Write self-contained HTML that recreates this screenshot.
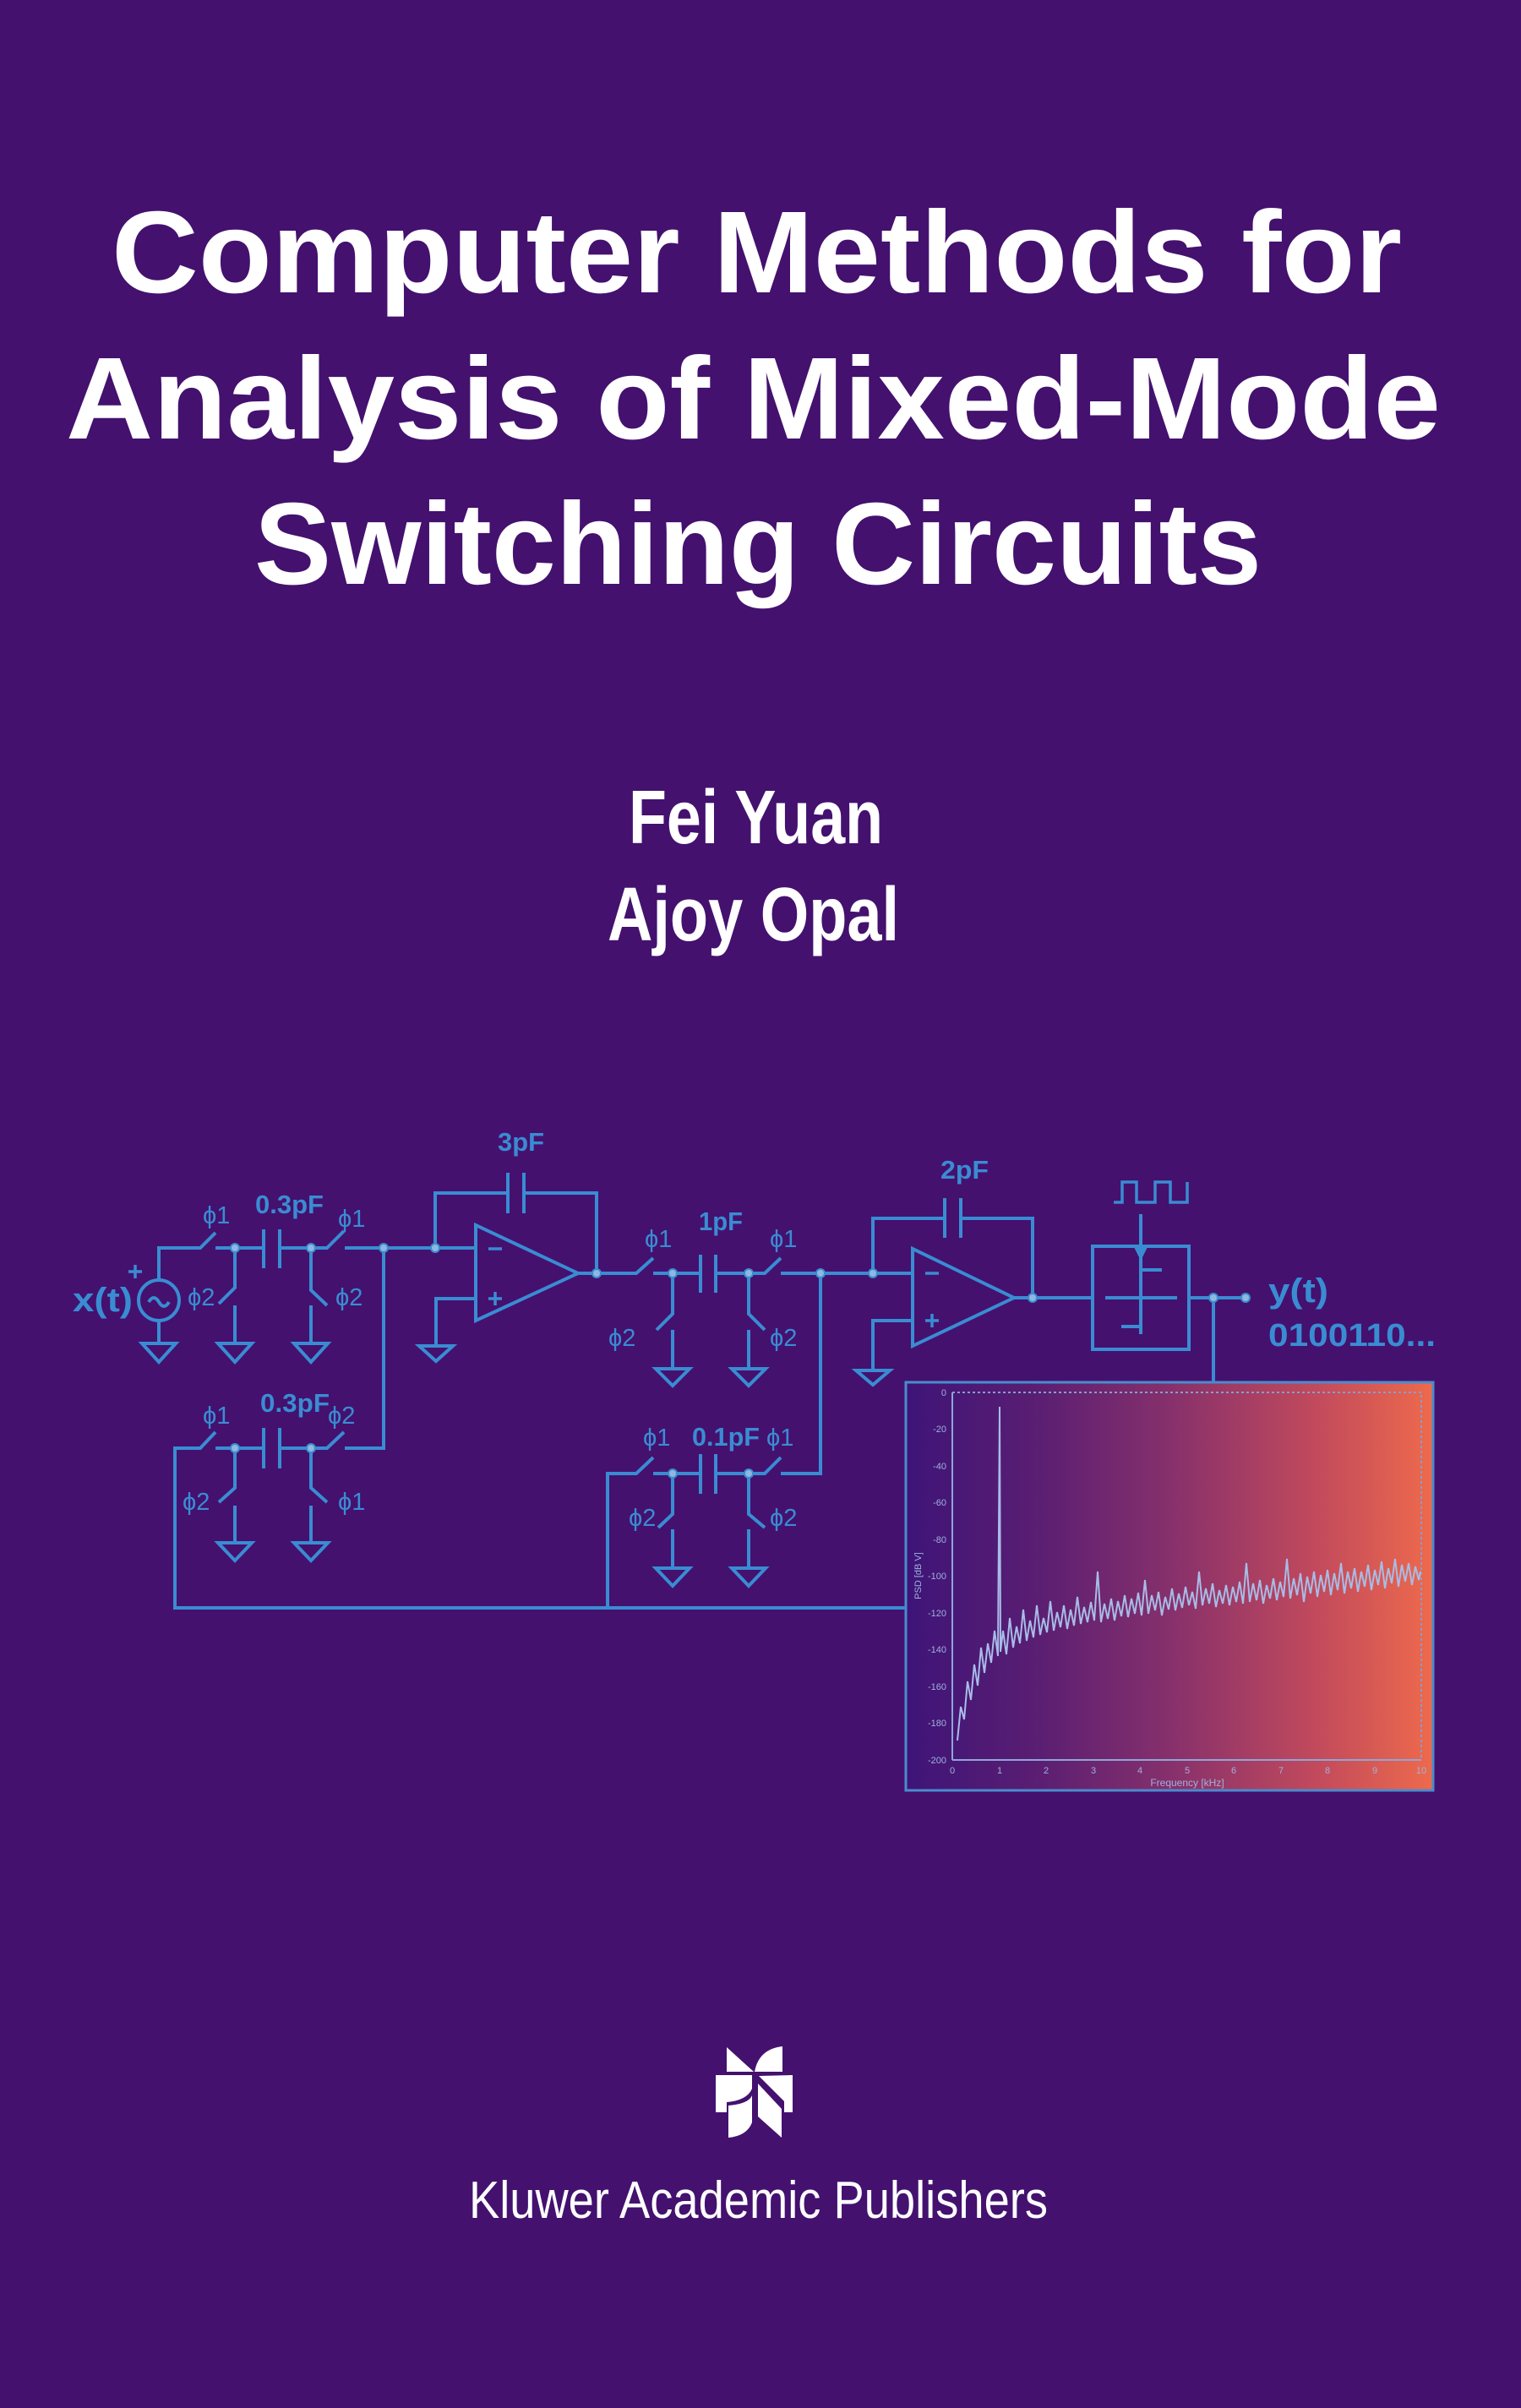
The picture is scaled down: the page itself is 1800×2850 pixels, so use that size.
<!DOCTYPE html>
<html><head><meta charset="utf-8"><style>
html,body{margin:0;padding:0;background:#44116f;}
svg{display:block}
</style></head><body>
<svg width="1800" height="2850" viewBox="0 0 1800 2850" xmlns="http://www.w3.org/2000/svg">
<defs>
<linearGradient id="pg" x1="0" y1="0" x2="1" y2="0">
<stop offset="0" stop-color="#3e1478"/>
<stop offset="0.25" stop-color="#5a1e72"/>
<stop offset="0.5" stop-color="#86306c"/>
<stop offset="0.78" stop-color="#c24a5c"/>
<stop offset="1" stop-color="#ee6a4c"/>
</linearGradient>
</defs>
<rect width="1800" height="2850" fill="#44116f"/>

<g font-family="'Liberation Sans', sans-serif" font-weight="bold" fill="#ffffff">
<text x="132" y="346" font-size="138" textLength="1527" lengthAdjust="spacingAndGlyphs">Computer Methods for</text>
<text x="78" y="519" font-size="138" textLength="1627" lengthAdjust="spacingAndGlyphs">Analysis of Mixed-Mode</text>
<text x="301" y="691" font-size="138" textLength="1192" lengthAdjust="spacingAndGlyphs">Switching Circuits</text>
<text x="744" y="998" font-size="90" textLength="301" lengthAdjust="spacingAndGlyphs">Fei Yuan</text>
<text x="719" y="1113" font-size="90" textLength="345" lengthAdjust="spacingAndGlyphs">Ajoy Opal</text>
</g>
<text x="555" y="2625" font-family="'Liberation Sans', sans-serif" font-size="62" fill="#ffffff" textLength="685" lengthAdjust="spacingAndGlyphs">Kluwer Academic Publishers</text>

<!-- logo -->
<g fill="#ffffff">
<path d="M860,2423 L892,2452 L860,2452 Z"/>
<path d="M893,2452 Q898,2425 926,2422 L926,2452 Z"/>
<path d="M847,2456 L890,2456 L890,2472 Q884,2486 860,2488 L860,2500 L847,2500 Z"/>
<path d="M898,2457 L938,2456 L938,2500 L928,2500 L928,2487 Z"/>
<path d="M862,2492 Q886,2490 890,2480 L890,2512 Q884,2528 862,2530 Z"/>
<path d="M897,2466 L925,2496 L925,2530 L897,2505 Z"/>
</g>

<!-- plot -->
<rect x="1072" y="1636" width="624" height="483" fill="url(#pg)" stroke="#4a8ccc" stroke-width="3"/>
<rect x="1127" y="1648" width="555" height="435" fill="none" stroke="#8a9ccc" stroke-width="2" stroke-dasharray="3,3"/>
<line x1="1127" y1="1648" x2="1127" y2="2083" stroke="#8fa6d8" stroke-width="2"/>
<line x1="1127" y1="2083" x2="1682" y2="2083" stroke="#8fa6d8" stroke-width="2"/>
<g font-family="'Liberation Sans', sans-serif" font-size="11" fill="#9fb2de" text-anchor="end">
<text x="1120" y="1652">0</text><text x="1120" y="1695">-20</text><text x="1120" y="1739">-40</text><text x="1120" y="1782">-60</text><text x="1120" y="1826">-80</text><text x="1120" y="1869">-100</text><text x="1120" y="1913">-120</text><text x="1120" y="1956">-140</text><text x="1120" y="2000">-160</text><text x="1120" y="2043">-180</text><text x="1120" y="2087">-200</text>
</g>
<g font-family="'Liberation Sans', sans-serif" font-size="11" fill="#9fb2de" text-anchor="middle">
<text x="1127" y="2099">0</text><text x="1183" y="2099">1</text><text x="1238" y="2099">2</text><text x="1294" y="2099">3</text><text x="1349" y="2099">4</text><text x="1405" y="2099">5</text><text x="1460" y="2099">6</text><text x="1516" y="2099">7</text><text x="1571" y="2099">8</text><text x="1627" y="2099">9</text><text x="1682" y="2099">10</text>
</g>
<text x="1405" y="2114" font-family="'Liberation Sans', sans-serif" font-size="12" fill="#9fb2de" text-anchor="middle">Frequency [kHz]</text>
<text transform="translate(1090,1865) rotate(-90)" font-family="'Liberation Sans', sans-serif" font-size="11" fill="#9fb2de" text-anchor="middle">PSD [dB V]</text>
<polyline fill="none" stroke="#a8bce8" stroke-width="2" points="1133,2060 1137,2020 1141,2035 1145,1990 1149,2012 1153,1970 1157,1995 1161,1950 1165,1980 1169,1945 1173,1968 1177,1930 1181,1960 1183,1665 1184,1955 1187,1930 1191,1958 1195,1915 1199,1950 1203,1925 1207,1945 1211,1905 1215,1942 1219,1918 1223,1938 1227,1900 1231,1935 1235,1915 1239,1932 1243,1895 1247,1930 1251,1908 1255,1926 1259,1900 1263,1928 1267,1905 1271,1924 1275,1890 1279,1922 1283,1902 1287,1920 1291,1896 1295,1918 1299,1860 1303,1920 1307,1898 1311,1916 1315,1892 1319,1918 1323,1895 1327,1913 1331,1888 1335,1914 1339,1892 1343,1910 1347,1885 1351,1912 1355,1870 1359,1910 1363,1888 1367,1906 1371,1884 1375,1912 1379,1890 1383,1905 1387,1880 1391,1906 1395,1886 1399,1903 1403,1878 1407,1900 1411,1884 1415,1904 1419,1860 1423,1900 1427,1880 1431,1898 1435,1874 1439,1902 1443,1882 1447,1898 1451,1876 1455,1900 1459,1878 1463,1896 1467,1872 1471,1898 1475,1850 1479,1896 1483,1874 1487,1894 1491,1870 1495,1898 1499,1876 1503,1892 1507,1868 1511,1894 1515,1872 1519,1890 1523,1845 1527,1892 1531,1868 1535,1888 1539,1862 1543,1896 1547,1866 1551,1886 1555,1860 1559,1890 1563,1864 1567,1884 1571,1858 1575,1888 1579,1862 1583,1882 1587,1850 1591,1886 1595,1860 1599,1880 1603,1856 1607,1884 1611,1860 1615,1878 1619,1852 1623,1882 1627,1858 1631,1876 1635,1848 1639,1880 1643,1856 1647,1874 1651,1845 1655,1878 1659,1852 1663,1872 1667,1850 1671,1876 1675,1854 1679,1870 1681,1860"/>

<!-- circuit wires -->
<g stroke="#3a8cd2" stroke-width="4" fill="none" stroke-linecap="butt">
<circle cx="188" cy="1539" r="24"/>
<path d="M176,1541 q6,-10 12,0 q6,10 12,0"/>
<polyline points="188,1515 188,1477 237,1477 255,1459"/>
<polyline points="188,1563 188,1590"/>
<polyline points="255,1477 312,1477"/>
<line x1="312" y1="1455" x2="312" y2="1501"/>
<line x1="331" y1="1455" x2="331" y2="1501"/>
<polyline points="331,1477 387,1477 407,1457"/>
<polyline points="408,1477 563,1477"/>
<polyline points="278,1477 278,1524 259,1543"/>
<line x1="278" y1="1545" x2="278" y2="1590"/>
<polyline points="368,1477 368,1527 387,1545"/>
<line x1="368" y1="1545" x2="368" y2="1590"/>
<polyline points="207,1903 207,1714 237,1714 255,1695"/>
<polyline points="255,1714 312,1714"/>
<line x1="312" y1="1690" x2="312" y2="1738"/>
<line x1="331" y1="1690" x2="331" y2="1738"/>
<polyline points="331,1714 387,1714 407,1695"/>
<polyline points="408,1714 454,1714 454,1477"/>
<polyline points="278,1714 278,1761 259,1778"/>
<line x1="278" y1="1782" x2="278" y2="1826"/>
<polyline points="368,1714 368,1761 387,1778"/>
<line x1="368" y1="1782" x2="368" y2="1826"/>
<polyline points="515,1477 515,1412 601,1412"/>
<line x1="601" y1="1388" x2="601" y2="1436"/>
<line x1="620" y1="1388" x2="620" y2="1436"/>
<polyline points="620,1412 706,1412 706,1507"/>
<polygon points="563,1450 563,1563 684,1507"/>
<polyline points="563,1537 516,1537 516,1593"/>
<polyline points="684,1507 753,1507 773,1489"/>
<polyline points="773,1507 829,1507"/>
<line x1="829" y1="1485" x2="829" y2="1530"/>
<line x1="847" y1="1485" x2="847" y2="1530"/>
<polyline points="847,1507 905,1507 924,1489"/>
<polyline points="924,1507 1080,1507"/>
<polyline points="796,1507 796,1555 777,1574"/>
<line x1="796" y1="1574" x2="796" y2="1620"/>
<polyline points="886,1507 886,1555 905,1574"/>
<line x1="886" y1="1574" x2="886" y2="1620"/>
<polyline points="719,1904 719,1744 753,1744 773,1725"/>
<polyline points="773,1744 829,1744"/>
<line x1="829" y1="1721" x2="829" y2="1768"/>
<line x1="847" y1="1721" x2="847" y2="1768"/>
<polyline points="847,1744 905,1744 924,1725"/>
<polyline points="924,1744 971,1744 971,1507"/>
<polyline points="796,1744 796,1792 779,1808"/>
<line x1="796" y1="1810" x2="796" y2="1856"/>
<polyline points="886,1744 886,1792 905,1808"/>
<line x1="886" y1="1810" x2="886" y2="1856"/>
<line x1="205" y1="1903" x2="1072" y2="1903"/>
<polyline points="1033,1507 1033,1442 1118,1442"/>
<line x1="1118" y1="1418" x2="1118" y2="1465"/>
<line x1="1137" y1="1418" x2="1137" y2="1465"/>
<polyline points="1137,1442 1222,1442 1222,1536"/>
<polygon points="1080,1478 1080,1593 1200,1536"/>
<polyline points="1080,1563 1033,1563 1033,1622"/>
<line x1="1200" y1="1536" x2="1293" y2="1536"/>
<rect x="1293" y="1475" width="114" height="122"/>
<line x1="1350" y1="1437" x2="1350" y2="1579"/>
<line x1="1308" y1="1536" x2="1393" y2="1536"/>
<line x1="1350" y1="1503" x2="1375" y2="1503"/>
<line x1="1327" y1="1570" x2="1350" y2="1570"/>
<polyline points="1318,1423 1328,1423 1328,1399 1345,1399 1345,1423 1367,1423 1367,1399 1385,1399 1385,1423 1405,1423 1405,1399" stroke-width="3.5"/>
<polyline points="1407,1536 1474,1536"/>
<line x1="1436" y1="1536" x2="1436" y2="1636"/>
<!-- grounds -->
<polygon points="168,1590 208,1590 188,1612"/>
<polygon points="258,1590 298,1590 278,1612"/>
<polygon points="348,1590 388,1590 368,1612"/>
<polygon points="258,1826 298,1826 278,1847"/>
<polygon points="348,1826 388,1826 368,1847"/>
<polygon points="496,1593 536,1593 516,1611"/>
<polygon points="776,1620 816,1620 796,1640"/>
<polygon points="866,1620 906,1620 886,1640"/>
<polygon points="776,1856 816,1856 796,1877"/>
<polygon points="866,1856 906,1856 886,1877"/>
<polygon points="1013,1622 1053,1622 1033,1639"/>
</g>
<polygon points="1342,1476 1358,1476 1350,1492" fill="#3a8cd2"/>
<g stroke="#3a8cd2" stroke-width="3.5">
<line x1="578" y1="1478" x2="594" y2="1478"/>
<line x1="578" y1="1537" x2="594" y2="1537"/><line x1="586" y1="1529" x2="586" y2="1545"/>
<line x1="1095" y1="1507" x2="1111" y2="1507"/>
<line x1="1095" y1="1563" x2="1111" y2="1563"/><line x1="1103" y1="1555" x2="1103" y2="1571"/>
<line x1="152" y1="1505" x2="168" y2="1505"/><line x1="160" y1="1497" x2="160" y2="1513"/>
</g>
<g fill="#8fb8de" stroke="#3a8cd2" stroke-width="2">
<circle cx="278" cy="1477" r="5"/><circle cx="368" cy="1477" r="5"/><circle cx="454" cy="1477" r="5"/><circle cx="515" cy="1477" r="5"/>
<circle cx="278" cy="1714" r="5"/><circle cx="368" cy="1714" r="5"/>
<circle cx="706" cy="1507" r="5"/><circle cx="796" cy="1507" r="5"/><circle cx="886" cy="1507" r="5"/><circle cx="971" cy="1507" r="5"/><circle cx="1033" cy="1507" r="5"/>
<circle cx="796" cy="1744" r="5"/><circle cx="886" cy="1744" r="5"/>
<circle cx="1222" cy="1536" r="5"/><circle cx="1436" cy="1536" r="5"/><circle cx="1474" cy="1536" r="5"/>
</g>
<g font-family="'Liberation Sans', sans-serif" fill="#3a8cd2" font-size="29">
<text x="240" y="1448">ϕ1</text><text x="400" y="1452">ϕ1</text>
<text x="222" y="1545">ϕ2</text><text x="397" y="1545">ϕ2</text>
<text x="240" y="1685">ϕ1</text><text x="388" y="1685">ϕ2</text>
<text x="216" y="1787">ϕ2</text><text x="400" y="1787">ϕ1</text>
<text x="763" y="1476">ϕ1</text><text x="911" y="1476">ϕ1</text>
<text x="720" y="1593">ϕ2</text><text x="911" y="1593">ϕ2</text>
<text x="761" y="1711">ϕ1</text><text x="907" y="1711">ϕ1</text>
<text x="744" y="1806">ϕ2</text><text x="911" y="1806">ϕ2</text>
</g>
<g font-family="'Liberation Sans', sans-serif" fill="#3a8cd2" font-weight="bold">
<text x="302" y="1436" font-size="31" textLength="81" lengthAdjust="spacingAndGlyphs">0.3pF</text>
<text x="308" y="1671" font-size="31" textLength="82" lengthAdjust="spacingAndGlyphs">0.3pF</text>
<text x="589" y="1362" font-size="31" textLength="55" lengthAdjust="spacingAndGlyphs">3pF</text>
<text x="827" y="1456" font-size="31" textLength="52" lengthAdjust="spacingAndGlyphs">1pF</text>
<text x="819" y="1711" font-size="31" textLength="80" lengthAdjust="spacingAndGlyphs">0.1pF</text>
<text x="1113" y="1395" font-size="31" textLength="57" lengthAdjust="spacingAndGlyphs">2pF</text>
<text x="86" y="1552" font-size="40" textLength="71" lengthAdjust="spacingAndGlyphs">x(t)</text>
<text x="1501" y="1541" font-size="40" textLength="71" lengthAdjust="spacingAndGlyphs">y(t)</text>
<text x="1501" y="1593" font-size="38" textLength="198" lengthAdjust="spacingAndGlyphs">0100110...</text>
</g>
</svg>
</body></html>
